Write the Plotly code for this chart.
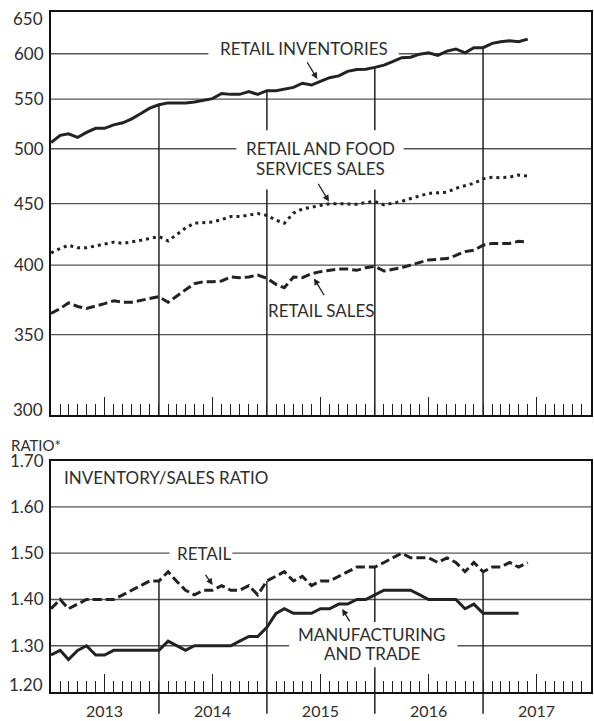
import math
import pandas as pd
import plotly.graph_objects as go

# ---------------- data ----------------
months = pd.date_range("2013-01-01", periods=54, freq="MS")

retail_inventories = [506, 513, 514.5, 511, 516, 520, 520, 523.5, 525.5, 529.5, 535, 540.5,
                      544, 546, 546, 546, 547, 549, 550.5, 556, 555, 555, 558, 555,
                      559, 559, 561, 562.5, 567, 565, 569, 573, 575, 580, 582, 582.5,
                      584.5, 587, 591, 595.5, 596, 599.5, 601, 598, 603, 605.5, 601, 607,
                      607, 612, 614, 615, 614, 617]

retail_food_sales = [409.5, 413, 415.5, 413.5, 413.5, 415, 416.5, 418, 417, 418, 419.5, 421,
                     422.5, 419, 424, 429.5, 433.5, 434, 434.5, 436.5, 439, 439, 440, 441.5,
                     440, 436, 433.5, 442, 445.5, 447, 448.5, 450, 450, 450, 449.5, 451,
                     452, 449, 450.5, 452, 454.5, 457, 459, 459.5, 460, 463.5, 466, 468,
                     472, 473.5, 473, 473.5, 475.5, 474.5]

retail_sales = [364.5, 368, 372, 369.5, 368, 369.5, 371.5, 373.5, 372.5, 372.5, 374, 375.5,
                376.5, 372.5, 377, 381.5, 386, 387.5, 387.5, 388, 391, 390.5, 391, 392.5,
                390, 385.5, 383, 391, 390.5, 393.5, 395, 396, 397, 397, 396, 398,
                399, 395.5, 396.5, 398, 400, 402, 404, 404.5, 405, 407.5, 410.5, 411.5,
                415.5, 417, 417, 417, 418.7, 418]

retail_ratio = [1.38, 1.40, 1.38, 1.39, 1.40, 1.40, 1.40, 1.40, 1.41, 1.42, 1.43, 1.44,
                1.44, 1.46, 1.44, 1.42, 1.41, 1.42, 1.42, 1.43, 1.42, 1.42, 1.43, 1.41,
                1.44, 1.45, 1.46, 1.44, 1.45, 1.43, 1.44, 1.44, 1.45, 1.46, 1.47, 1.47,
                1.47, 1.48, 1.49, 1.50, 1.49, 1.49, 1.49, 1.48, 1.49, 1.48, 1.46, 1.48,
                1.46, 1.47, 1.47, 1.48, 1.47, 1.48]

mt_ratio = [1.28, 1.29, 1.27, 1.29, 1.30, 1.28, 1.28, 1.29, 1.29, 1.29, 1.29, 1.29,
            1.29, 1.31, 1.30, 1.29, 1.30, 1.30, 1.30, 1.30, 1.30, 1.31, 1.32, 1.32,
            1.34, 1.37, 1.38, 1.37, 1.37, 1.37, 1.38, 1.38, 1.39, 1.39, 1.40, 1.40,
            1.41, 1.42, 1.42, 1.42, 1.42, 1.41, 1.40, 1.40, 1.40, 1.40, 1.38, 1.39,
            1.37, 1.37, 1.37, 1.37, 1.37]

top_ticks = [350, 400, 450, 500, 550, 600]
top_ticktext = ["350", "400", "450", "500", "550", "600"]
bot_ticks = [1.30, 1.40, 1.50, 1.60, 1.70]
bot_ticktext = ["1.30", "1.40", "1.50", "1.60", "1.70"]
year_lines = [2014, 2015, 2016, 2017]
TOP_MIN, TOP_MAX = 300, 650
BOT_MIN, BOT_MAX = 1.2, 1.7
X_START, X_END = "2013-01-01", "2018-01-01"

# ---------------- layout helpers (pixel -> paper) ----------------
W, H = 594, 721
ML, MR, MT, MB = 51, 1, 7, 24
PW, PH = W - ML - MR, H - MT - MB
TOP_PX = (7, 416)       # top, bottom pixel rows of upper panel
BOT_PX = (462.3, 697)   # top, bottom pixel rows of lower panel


def px(x):
    return (x - ML) / PW


def py(y):
    return (H - MB - y) / PH


TOP_DOM = [py(TOP_PX[1]), py(TOP_PX[0])]
BOT_DOM = [py(BOT_PX[1]), py(BOT_PX[0])]


def top_val(v):   # data value -> paper y (upper, log panel)
    f = math.log(v / TOP_MIN) / math.log(TOP_MAX / TOP_MIN)
    return TOP_DOM[0] + f * (TOP_DOM[1] - TOP_DOM[0])


def bot_val(v):   # data value -> paper y (lower panel)
    f = (v - BOT_MIN) / (BOT_MAX - BOT_MIN)
    return BOT_DOM[0] + f * (BOT_DOM[1] - BOT_DOM[0])


def date_x(d):    # date -> paper x
    t0, t1 = pd.Timestamp(X_START), pd.Timestamp(X_END)
    return (pd.Timestamp(d) - t0) / (t1 - t0)


INK = "#222222"
GRID = "#555555"
TXT = "#2e2e2e"
FONT = "Lato"

fig = go.Figure()
fig.add_trace(go.Scatter(x=months, y=retail_inventories, mode="lines",
                         line=dict(color=INK, width=3), xaxis="x", yaxis="y"))
fig.add_trace(go.Scatter(x=months, y=retail_food_sales, mode="lines",
                         line=dict(color=INK, width=3, dash="3px,4px"), xaxis="x", yaxis="y"))
fig.add_trace(go.Scatter(x=months, y=retail_sales, mode="lines",
                         line=dict(color=INK, width=3, dash="9px,4px"), xaxis="x", yaxis="y"))
fig.add_trace(go.Scatter(x=months, y=retail_ratio, mode="lines",
                         line=dict(color=INK, width=3, dash="9px,4px"), xaxis="x2", yaxis="y2"))
fig.add_trace(go.Scatter(x=months[:len(mt_ratio)], y=mt_ratio, mode="lines",
                         line=dict(color=INK, width=3), xaxis="x2", yaxis="y2"))

xcommon = dict(range=[X_START, X_END], showgrid=False, zeroline=False,
               ticks="inside", dtick="M12", tick0="2013-07-01", ticklen=18, tickwidth=1.3,
               tickcolor=INK, showline=True, linecolor="#111", linewidth=2, mirror=True,
               minor=dict(ticks="inside", dtick="M1", tick0="2013-01-01", ticklen=11,
                          tickwidth=1.3, tickcolor=INK, showgrid=False))
ycommon = dict(showgrid=False, zeroline=False,
               showline=True, linecolor="#111", linewidth=2, mirror=True, ticks="",
               tickfont=dict(family=FONT, size=17, color=TXT), ticklabelstandoff=2)

fig.update_layout(
    width=W, height=H, margin=dict(l=ML, r=MR, t=MT, b=MB),
    paper_bgcolor="white", plot_bgcolor="rgba(0,0,0,0)", showlegend=False,
    font=dict(family=FONT, color=TXT),
    xaxis=dict(xcommon, domain=[0, 1], anchor="y", showticklabels=False),
    yaxis=dict(ycommon, domain=TOP_DOM, anchor="x", type="log",
               range=[math.log10(TOP_MIN), math.log10(TOP_MAX)],
               tickvals=top_ticks, ticktext=top_ticktext),
    xaxis2=dict(xcommon, domain=[0, 1], anchor="y2", showticklabels=True, tickformat="%Y",
                tickfont=dict(family=FONT, size=16, color=TXT), ticklabelstandoff=4),
    yaxis2=dict(ycommon, domain=BOT_DOM, anchor="x2", range=[BOT_MIN, BOT_MAX],
                tickvals=bot_ticks, ticktext=bot_ticktext),
)

shapes = []


def seg(x0, y0, x1, y1, color=GRID, width=1.3):
    shapes.append(dict(type="line", layer="below", xref="paper", yref="paper",
                       x0=x0, y0=y0, x1=x1, y1=y1, line=dict(color=color, width=width)))


# horizontal grid lines, broken where a label sits on them (gaps in pixels)
h_gaps = {("top", 600): (209, 400), ("top", 500): (237, 405),
          ("bot", 1.50): (170, 233), ("bot", 1.30): (290, 459)}
for panel, ticks, conv in [("top", top_ticks, top_val), ("bot", bot_ticks[:-1], bot_val)]:
    for v in ticks:
        yv = conv(v)
        gap = h_gaps.get((panel, v))
        if gap:
            seg(0, yv, px(gap[0]), yv)
            seg(px(gap[1]), yv, 1, yv)
        else:
            seg(0, yv, 1, yv)

# year separators: from the top series of each panel down to the axis (lower
# panel: on below the axis between the year labels), broken behind labels
v_gaps_top = {2015: (127, 187), 2016: (127, 187)}
v_gaps_bot = {2016: (626, 672)}
for yr in year_lines:
    xd = date_x(f"{yr}-01-01")
    y_hi = top_val(retail_inventories[12 * (yr - 2013)])
    y_lo = TOP_DOM[0]
    if yr in v_gaps_top:
        g0, g1 = v_gaps_top[yr]
        seg(xd, y_hi, xd, py(g0), INK, 1.5)
        seg(xd, py(g1), xd, y_lo, INK, 1.5)
    else:
        seg(xd, y_hi, xd, y_lo, INK, 1.5)
    y_hi = bot_val(retail_ratio[12 * (yr - 2013)])
    y_lo = py(719)
    if yr in v_gaps_bot:
        g0, g1 = v_gaps_bot[yr]
        seg(xd, y_hi, xd, py(g0), INK, 1.5)
        seg(xd, py(g1), xd, y_lo, INK, 1.5)
    else:
        seg(xd, y_hi, xd, y_lo, INK, 1.5)
fig.update_layout(shapes=shapes)

ann = []


def label(text, x, y, size=17, xanchor="center"):
    ann.append(dict(text=text, x=px(x), y=py(y), xref="paper", yref="paper",
                    xanchor=xanchor, yanchor="middle", showarrow=False,
                    font=dict(family=FONT, size=size, color=TXT)))


def arrow(hx, hy, tx, ty_):
    ann.append(dict(text="", x=px(hx), y=py(hy), xref="paper", yref="paper",
                    ax=tx - hx, ay=ty_ - hy, showarrow=True, arrowhead=2,
                    arrowsize=1, arrowwidth=1.3, arrowcolor=INK, standoff=0))


label("RETAIL INVENTORIES", 304.7, 44.5)
label("RETAIL AND FOOD", 321, 146)
label("SERVICES SALES", 321.3, 165.5)
label("RETAIL SALES", 322, 310)
label("RATIO*", 9, 446.5, size=15, xanchor="left")
label("INVENTORY/SALES RATIO", 61.7, 479.5, xanchor="left")
label("RETAIL", 205, 556)
label("MANUFACTURING", 372.8, 639)
label("AND TRADE", 373, 658)
label("650", 45, 14, xanchor="right")
label("300", 45, 410, xanchor="right")
label("1.20", 45, 689.5, xanchor="right")

arrow(318.3, 75, 307.3, 56.7)
arrow(330, 199.3, 318.3, 180)
arrow(315, 277.3, 326, 295.7)
arrow(213.3, 588.3, 205, 576.7)
arrow(343.3, 612.7, 351.7, 626.7)

fig.update_layout(annotations=ann)
fig.write_html("out.html", config={"displayModeBar": False},
               post_script="document.body.style.margin='0px';document.body.style.overflow='hidden';")
